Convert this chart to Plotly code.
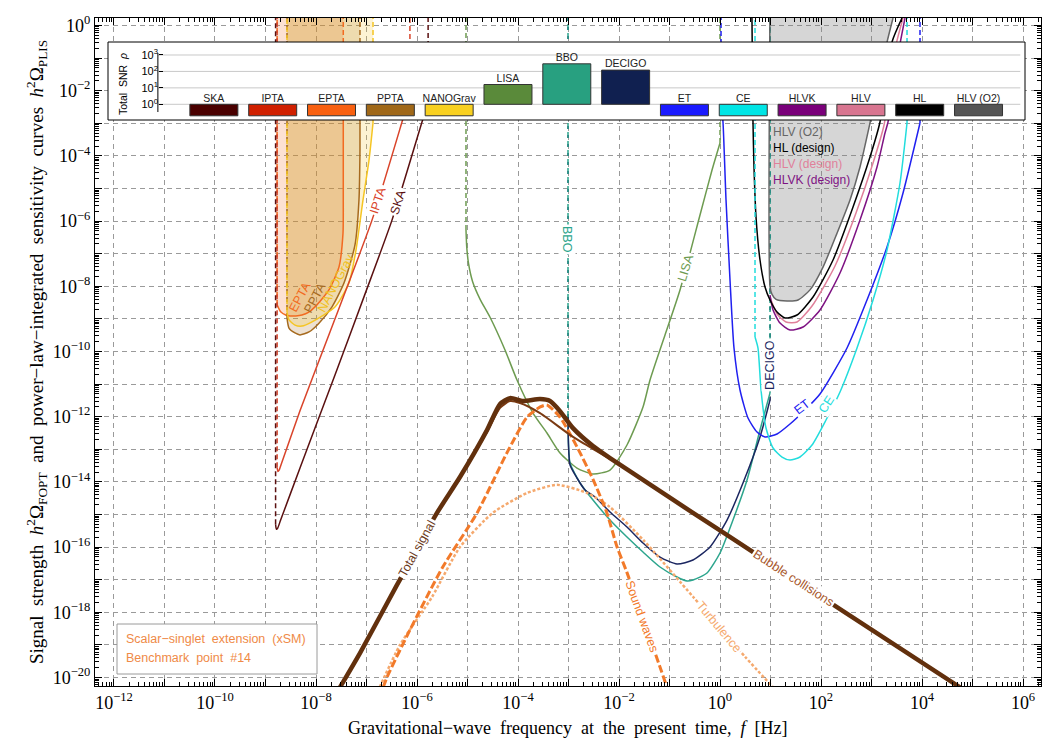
import numpy as np
import plotly.graph_objects as go

# ---------------- axes ----------------
X_RANGE = [-12.376, 6.356]          # log10 f [Hz]
Y_RANGE = [-20.26, 0.23]            # log10 h^2 Omega
X_TICK_EXP = list(range(-12, 7))
Y_TICK_EXP = list(range(-20, 1))
TOP = 0.6                           # log10 value above the plot top (curves leaving the frame)

# ---------------- PTA sensitivity curves (log10 f, log10 Omega) ----------------
SKA_LF = [-8.80, -8.785, -8.76, -8.70, -8.317, -7.624, -7.030, -6.495, -5.901, -5.78]
SKA_LO = [-15.30, -15.45, -15.42, -15.17, -13.57, -10.72, -8.24, -5.97, -2.96, -2.35]
IPTA_LF = [-8.77, -8.755, -8.73, -8.68, -8.317, -7.723, -6.891, -6.297, -6.14]
IPTA_LO = [-13.55, -13.68, -13.64, -13.42, -11.82, -9.40, -5.97, -2.96, -2.13]
EPTA_LF = [-8.77, -8.70, -8.60, -8.515, -8.40, -8.277, -8.15, -8.02, -7.743, -7.545, -7.465, -7.46, -7.46]
EPTA_LO = [-8.57, -8.78, -8.88, -8.91, -8.91, -8.88, -8.80, -8.63, -8.11, -7.41, -6.37, -5.35, -2.99]
PPTA_LF = [-8.574, -8.535, -8.416, -8.317, -8.139, -7.941, -7.683, -7.446, -7.228, -7.149, -7.129, -7.129]
PPTA_LO = [-8.97, -9.28, -9.43, -9.49, -9.40, -9.13, -8.63, -7.90, -6.73, -5.35, -3.82, -2.99]
NANO_LF = [-8.574, -8.535, -8.416, -8.277, -8.079, -7.62, -7.347, -7.208, -7.069, -6.950, -6.871]
NANO_LO = [-8.79, -9.03, -9.19, -9.22, -9.09, -8.63, -7.90, -6.89, -5.35, -4.13, -2.99]

# ---------------- space / ground based ----------------
LISA_LF = [-5.030, -5.015, -4.980, -4.900, -4.750, -4.554, -4.257, -4.020, -3.703, -3.426, -3.168, -2.832,
           -2.515, -2.178, -1.842, -1.525, -1.386, -1.089, -0.792, -0.396, -0.158, 0.000]
LISA_LO = [-6.273, -6.794, -7.300, -7.850, -8.400, -8.950, -9.954, -10.874, -11.887, -12.500, -13.113, -13.574,
           -13.758, -13.635, -12.868, -11.703, -10.874, -9.494, -8.113, -5.813, -4.433, -3.604]
BBO_LF = [-3.010, -3.000, -2.970, -2.772, -2.515, -2.178, -1.842, -1.525, -1.188, -0.851, -0.653,
          -0.535, -0.257, 0.000, 0.257, 0.535, 0.792, 0.990]
BBO_LO = [-12.009, -12.868, -13.420, -14.034, -14.555, -15.169, -15.690, -16.150, -16.610, -16.917, -17.040,
          -17.009, -16.794, -16.181, -15.169, -13.942, -12.408, -11.273]
DECIGO_LF = [-3.010, -3.000, -2.970, -2.832, -2.673, -2.475, -2.178, -1.842, -1.525, -1.188, -0.851,
             -0.535, -0.198, 0.139, 0.455, 0.792, 0.990]
DECIGO_LO = [-12.009, -12.868, -13.482, -13.880, -14.248, -14.463, -14.923, -15.383, -15.874, -16.304, -16.518,
             -16.396, -15.997, -15.169, -14.034, -12.623, -11.488]
ET_LF = [0.020, 0.059, 0.119, 0.198, 0.277, 0.396, 0.554, 0.733, 0.891, 1.129, 1.386, 1.683, 1.980,
         2.515, 2.911, 3.307, 3.624, 3.960]
ET_LO = [-2.285, -2.960, -5.353, -7.807, -9.893, -11.181, -12.040, -12.469, -12.623, -12.531, -12.224,
         -11.794, -11.304, -9.893, -8.420, -6.794, -5.138, -2.991]
CE_LF = [0.693, 0.752, 0.812, 0.911, 1.050, 1.228, 1.386, 1.584, 1.822, 2.099, 2.376, 2.713, 3.030,
         3.307, 3.564, 3.703]
CE_LO = [-9.555, -9.893, -11.181, -12.347, -12.960, -13.236, -13.328, -13.236, -12.868, -12.101, -11.242,
         -9.893, -8.420, -6.886, -4.831, -2.991]
HL_LF = [0.630, 0.653, 0.673, 0.713, 0.792, 0.891, 0.990, 1.129, 1.287, 1.525, 1.842, 2.238, 2.634,
         2.970, 3.168, 3.406, 3.604]
HL_LO = [0.60, -2.960, -4.340, -5.874, -7.193, -8.021, -8.420, -8.788, -8.972, -8.880, -8.328, -7.193,
         -5.567, -4.034, -2.960, -0.506, 0.230]
HLV_LF = [0.990, 1.129, 1.307, 1.525, 1.822, 2.277, 2.693, 3.030, 3.248, 3.485, 3.624]
HLV_LO = [-8.328, -8.850, -9.095, -9.095, -8.604, -7.377, -5.751, -4.218, -3.052, -0.598, 0.230]
HLVK_LF = [0.990, 1.050, 1.188, 1.386, 1.644, 1.980, 2.376, 2.772, 3.109, 3.267, 3.327, 3.505, 3.663]
HLVK_LO = [-8.267, -8.727, -9.126, -9.340, -9.248, -8.727, -7.592, -5.966, -4.340, -3.298, -2.960, -1.058, 0.230]
O2_LF = [0.990, 0.990, 1.030, 1.109, 1.327, 1.545, 1.782, 2.040, 2.317, 2.574, 2.772, 2.970, 3.307, 3.426, 3.45]
O2_LO = [0.60, -8.00, -8.25, -8.40, -8.45, -8.42, -8.11, -7.41, -6.37, -5.35, -4.34, -2.99, -0.51, 0.23, 0.60]

# ---------------- FOPT signal (xSM benchmark #14) ----------------
TOTAL_LF = [-7.525, -7.129, -6.396, -5.604, -5.149, -4.614, -4.356, -4.158, -3.901, -3.564, -3.366,
            -3.168, -2.911, -2.515, -2.178, -1.525, -0.535, 0.535, 2.376, 4.752]
TOTAL_LO = [-20.30, -19.25, -17.16, -14.95, -13.85, -12.41, -11.61, -11.43, -11.52, -11.46, -11.52,
            -11.83, -12.35, -12.90, -13.27, -13.94, -14.95, -16.03, -17.90, -20.30]
BC_LF = [-7.525, -7.129, -6.396, -5.604, -5.149, -4.614, -4.356, -4.158, -3.960, -3.564, -2.911,
         -2.238, -1.525, -0.535, 0.535, 2.376, 4.752]
BC_LO = [-20.30, -19.25, -17.16, -14.95, -13.85, -12.47, -11.73, -11.52, -11.58, -11.89, -12.62,
         -13.24, -13.94, -14.95, -16.03, -17.90, -20.30]
SW_LF = [-6.67, -6.59, -6.14, -5.49, -4.81, -4.22, -3.82, -3.56, -3.43, -3.17, -2.83, -2.51, -2.24,
         -2.04, -1.84, -1.19, -1.05]
SW_LO = [-20.30, -19.98, -18.54, -16.61, -14.95, -13.11, -12.01, -11.70, -11.64, -12.01, -12.93,
         -13.94, -14.95, -15.99, -16.79, -19.67, -20.30]
TURB_LF = [-6.74, -6.337, -5.703, -5.15, -4.50, -3.82, -3.23, -2.63, -2.18, -1.52, -0.53, 0.50, 1.05]
TURB_LO = [-20.30, -19.00, -17.53, -16.00, -14.95, -14.34, -14.09, -14.34, -14.77, -15.78, -17.53, -19.37, -20.30]

# ---------------- inset: total SNR ----------------
INSET_NAMES = ["SKA", "IPTA", "EPTA", "PPTA", "NANOGrav", "LISA", "BBO", "DECIGO",
               "ET", "CE", "HLVK", "HLV", "HL", "HLV (O2)"]
INSET_SNR = [0.2, 0.2, 0.2, 0.2, 0.2, 16, 290, 120, 0.2, 0.2, 0.2, 0.2, 0.2, 0.2]
INSET_COLORS = ["#4a0000", "#d02000", "#f86010", "#a06818", "#f8d020", "#5a8a3a", "#28a080", "#102050",
                "#1a1aff", "#00e5e5", "#7a007a", "#d87590", "#000000", "#555555"]
INSET_TICKS = [0, 1, 2, 3]

# ---------------- colours ----------------
C_SKA, C_IPTA, C_EPTA, C_PPTA, C_NANO = "#5a1010", "#d9442a", "#f26b21", "#a66a1e", "#f5c523"
C_LISA, C_BBO, C_DEC = "#6d9b50", "#2ca58d", "#1b2660"
C_ET, C_CE, C_HL, C_HLV, C_HLVK, C_O2 = "#2020f0", "#22dddd", "#000000", "#e0809a", "#7e1283", "#666666"
C_TOT, C_BC, C_SW, C_TURB = "#62300d", "#7a3a12", "#f27a2a", "#f5a96e"

W, H = 1047, 743
ML, MR, MT, MB = 95, 6, 18, 57
PW, PH = W - ML - MR, H - MT - MB


def px(x):
    return (x - ML) / PW


def py(y):
    return (H - MB - y) / PH


def P(a):
    return 10.0 ** np.asarray(a, dtype=float)


fig = go.Figure()


def line(lf, lo, color, width=1.5, dash="solid", shape="spline", smoothing=0.6):
    fig.add_trace(go.Scatter(x=P(lf), y=P(lo), mode="lines",
                             line=dict(color=color, width=width, dash=dash, shape=shape,
                                       smoothing=smoothing if shape == "spline" else None),
                             hoverinfo="skip"))


def vline(lf, lo_from, color, dash="5px,3px", width=1.5):
    fig.add_trace(go.Scatter(x=P([lf, lf]), y=P([lo_from, TOP]), mode="lines",
                             line=dict(color=color, width=width, dash=dash), hoverinfo="skip"))


def fill_region(lf, lo, fillcolor):
    xs = [lf[0]] + list(lf) + [lf[-1]]
    ys = [TOP] + list(lo) + [TOP]
    fig.add_trace(go.Scatter(x=P(xs), y=P(ys), mode="lines", fill="toself", fillcolor=fillcolor,
                             line=dict(width=0, shape="spline", smoothing=0.5), hoverinfo="skip"))


# fills
fill_region(EPTA_LF, EPTA_LO, "rgba(242,107,33,0.20)")
fill_region(PPTA_LF, PPTA_LO, "rgba(166,106,30,0.20)")
fill_region(NANO_LF, NANO_LO, "rgba(245,197,35,0.20)")
fig.add_trace(go.Scatter(x=P(O2_LF), y=P(O2_LO), mode="lines", fill="toself",
                         fillcolor="rgba(128,128,128,0.32)", line=dict(width=0), hoverinfo="skip"))

# PTA curves
for lf, lo, c in [(EPTA_LF, EPTA_LO, C_EPTA), (PPTA_LF, PPTA_LO, C_PPTA), (NANO_LF, NANO_LO, C_NANO)]:
    vline(lf[0], lo[0], c)
    vline(lf[-1], lo[-1], c)
    line(lf, lo, c)
for lf, lo, c in [(IPTA_LF, IPTA_LO, C_IPTA), (SKA_LF, SKA_LO, C_SKA)]:
    vline(lf[0], lo[0], c)
    vline(lf[-1], lo[-1], c)
    line(lf, lo, c)

# LISA / BBO / DECIGO
vline(LISA_LF[0], LISA_LO[0], C_LISA)
vline(LISA_LF[-1], LISA_LO[-1], C_LISA)
line(LISA_LF, LISA_LO, C_LISA)
vline(DECIGO_LF[0], DECIGO_LO[0], C_DEC, dash="3px,6px")
vline(BBO_LF[0], BBO_LO[0], C_BBO, dash="6px,3px")
vline(DECIGO_LF[-1], DECIGO_LO[-1], C_DEC, dash="3px,6px")
vline(BBO_LF[-1], BBO_LO[-1], C_BBO, dash="6px,3px")
line(BBO_LF, BBO_LO, C_BBO)
line(DECIGO_LF, DECIGO_LO, C_DEC)

# ground based
line(O2_LF[:-1], O2_LO[:-1], C_O2, width=1.5)
line(HLV_LF, HLV_LO, C_HLV)
line(HLVK_LF, HLVK_LO, C_HLVK)
line(HL_LF, HL_LO, C_HL)
vline(ET_LF[0], ET_LO[0], C_ET)
vline(ET_LF[-1], ET_LO[-1], C_ET)
line(ET_LF, ET_LO, C_ET)
vline(CE_LF[0], CE_LO[0], C_CE)
vline(CE_LF[-1], CE_LO[-1], C_CE)
line(CE_LF, CE_LO, C_CE)

# signal
line(TURB_LF, TURB_LO, C_TURB, width=2.5, dash="3px,2px")
line(SW_LF, SW_LO, C_SW, width=3, dash="8px,3px")
line(BC_LF, BC_LO, C_BC, width=2)
line(TOTAL_LF, TOTAL_LO, C_TOT, width=4.5)

# ---------------- inset bars ----------------
base = [min(v, 1.0) for v in INSET_SNR]
size = [abs(v - 1.0) for v in INSET_SNR]
fig.add_trace(go.Bar(x=INSET_NAMES, y=size, base=base, xaxis="x2", yaxis="y2",
                     marker=dict(color=INSET_COLORS, line=dict(color="#333333", width=1)),
                     hoverinfo="skip"))
fig.add_trace(go.Scatter(x=INSET_NAMES, y=[max(v, 1.0) for v in INSET_SNR], xaxis="x2", yaxis="y2",
                         mode="text", text=INSET_NAMES, textposition="top center",
                         textfont=dict(family="Liberation Sans", size=10.5, color="#222222"),
                         hoverinfo="skip", cliponaxis=False))

# ---------------- annotations ----------------
ann = []


def label(text, lf, lo, color, angle, bg=True, size=12.5, xanchor="center"):
    ann.append(dict(x=lf, y=lo, xref="x", yref="y", text=text, showarrow=False, textangle=angle,
                    font=dict(family="Liberation Sans", size=size, color=color),
                    bgcolor="white" if bg else None, borderpad=1, xanchor=xanchor, yanchor="middle"))


label("Total signal", -6.00, -16.06, "#6b3a1a", -61)
label("Bubble collisions", 1.446, -16.95, "#a8582c", 33)
label("Sound waves", -1.545, -18.14, C_SW, 70)
label("Turbulence", -0.02, -18.45, C_TURB, 50)
label("LISA", -0.68, -7.44, C_LISA, -73)
label("BBO", -3.03, -6.58, C_BBO, 90)
label("DECIGO", 0.99, -10.41, C_DEC, -90)
label("ET", 1.624, -11.70, C_ET, -38)
label("CE", 2.099, -11.64, C_CE, -57)
label("IPTA", -6.772, -5.35, C_IPTA, -72)
label("SKA", -6.376, -5.41, C_SKA, -72)
label("EPTA", -8.317, -8.33, C_EPTA, -62, bg=False)
label("PPTA", -8.02, -8.36, C_PPTA, -62, bg=False)
label("NANOGrav", -7.604, -7.90, "#f0c020", -62, bg=False)
for t, lo, c in [("HLV (O2)", -3.26, C_O2), ("HL (design)", -3.77, C_HL),
                 ("HLV (design)", -4.25, C_HLV), ("HLVK (design)", -4.75, C_HLVK)]:
    label(t, 1.01, lo, c, 0, bg=False, size=12, xanchor="left")

serif = "Liberation Serif"
ann.append(dict(x=px(36), y=0.5, xref="paper", yref="paper", textangle=-90, showarrow=False,
                xanchor="center", yanchor="middle",
                text="Signal&nbsp; strength&nbsp; <i>h</i><sup>2</sup>Ω<sub>FOPT</sub>&nbsp; and&nbsp; "
                     "power−law−integrated&nbsp; sensitivity&nbsp; curves&nbsp; <i>h</i><sup>2</sup>Ω<sub>PLIS</sub>",
                font=dict(family=serif, size=19, color="black")))
ann.append(dict(x=0.5, y=py(728), xref="paper", yref="paper", showarrow=False,
                xanchor="center", yanchor="middle",
                text="Gravitational−wave&nbsp; frequency&nbsp; at&nbsp; the&nbsp; present&nbsp; time,&nbsp; <i>f</i>&nbsp; [Hz]",
                font=dict(family=serif, size=18, color="black")))
ann.append(dict(x=px(123), y=py(84), xref="paper", yref="paper", textangle=-90, showarrow=False,
                xanchor="center", yanchor="middle",
                text="Total&nbsp; SNR&nbsp; <i>ρ</i>", font=dict(family="Liberation Sans", size=10.5, color="black")))
for t, yy in [("Scalar−singlet&nbsp; extension&nbsp; (xSM)", 639.3), ("Benchmark&nbsp; point&nbsp; #14", 658.3)]:
    ann.append(dict(x=px(124), y=py(yy), xref="paper", yref="paper", xanchor="left", yanchor="middle",
                    showarrow=False, text=t, font=dict(family="Liberation Sans", size=12.5, color="#ef8a47")))

# ---------------- shapes ----------------
IX0, IX1 = -0.952, 13.71
shapes = []
for k in INSET_TICKS:
    shapes.append(dict(type="line", xref="x2", yref="y2", x0=IX0, x1=IX1, y0=10.0 ** k, y1=10.0 ** k,
                       layer="below", line=dict(color="#c8c8c8", width=1)))
shapes.append(dict(type="line", xref="x2", yref="y2", x0=IX0, x1=IX0, y0=10.0 ** -0.47, y1=10.0 ** 3.12,
                   layer="above", line=dict(color="black", width=1)))
shapes.append(dict(type="rect", xref="paper", yref="paper", x0=px(108), x1=px(1025), y0=py(120), y1=py(42),
                   line=dict(color="black", width=1), layer="above"))
shapes.append(dict(type="rect", xref="paper", yref="paper", x0=px(117), x1=px(317), y0=py(674), y1=py(624),
                   line=dict(color="#9a9a9a", width=1), fillcolor="white", layer="above"))


def sup(e):
    return "10<sup>" + ("−" + str(-e) if e < 0 else str(e)) + "</sup>"


tickfont = dict(family=serif, size=18, color="black")
common = dict(type="log", ticks="inside", ticklen=7, tickwidth=1, tickcolor="black", showline=True,
              linecolor="black", linewidth=1, mirror="allticks", showgrid=True, gridcolor="#9a9a9a",
              gridwidth=1, griddash="5px,4px", zeroline=False, tickfont=tickfont,
              minor=dict(ticks="inside", ticklen=4, tickcolor="black", dtick="D1", showgrid=False))

fig.update_layout(
    width=W, height=H, margin=dict(l=ML, r=MR, t=MT, b=MB, pad=0),
    template="none", paper_bgcolor="white", plot_bgcolor="white", showlegend=False,
    font=dict(family="Liberation Sans", color="black"),
    xaxis=dict(range=X_RANGE, tickmode="array", tickvals=[10.0 ** e for e in X_TICK_EXP],
               ticktext=[sup(e) if e % 2 == 0 else "" for e in X_TICK_EXP], **common),
    yaxis=dict(range=Y_RANGE, tickmode="array", tickvals=[10.0 ** e for e in Y_TICK_EXP],
               ticktext=[sup(e) if e % 2 == 0 else "" for e in Y_TICK_EXP], **common),
    xaxis2=dict(domain=[px(108), px(1025)], anchor="y2", type="category", range=[-1.80, 13.79],
                showgrid=False, showticklabels=False, ticks="", showline=False, zeroline=False),
    yaxis2=dict(domain=[py(120), py(42)], anchor="free", position=px(158), type="log",
                range=[-0.955, 3.79], tickmode="array", tickvals=[10.0 ** k for k in INSET_TICKS],
                ticktext=[sup(k) for k in INSET_TICKS], ticks="inside", ticklen=4, tickcolor="black",
                showgrid=False, showline=False, zeroline=False,
                tickfont=dict(family="Liberation Sans", size=11, color="black")),
    bargap=0.184,
    annotations=ann, shapes=shapes,
)

fig.write_html("out.html", config={"displayModeBar": False},
               post_script="document.body.style.margin='0px';")
